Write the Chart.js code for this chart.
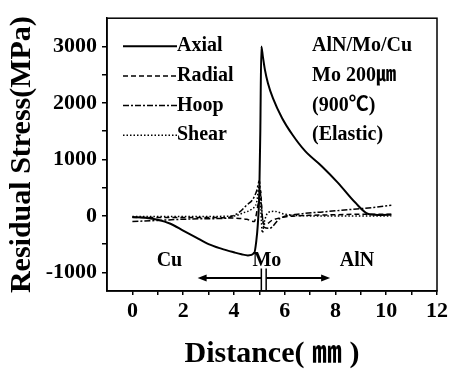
<!DOCTYPE html>
<html>
<head>
<meta charset="utf-8">
<script src="https://cdn.jsdelivr.net/npm/chart.js@4.4.1/dist/chart.umd.min.js"></script>
<style>
  body { margin: 0; background: #fff; }
  canvas { display: block; }
</style>
</head>
<body>
<canvas id="chart" width="452" height="369"></canvas>
<script>
// values (distance in mm, stress in MPa)
const axialDist = [0, 0.5, 1.0, 1.5, 2.0, 2.5, 3.0, 3.5, 4.0, 4.3, 4.55, 4.8, 4.88, 4.94, 5.0, 5.04, 5.08, 5.14, 5.22, 5.34, 5.54, 5.9, 6.3, 6.8, 7.47, 8.1, 8.77, 9.3, 9.85, 10.2];
const axialStress = [-20, -35, -70, -140, -260, -380, -500, -580, -645, -680, -700, -660, -450, -160, 410, 1500, 3000, 2820, 2590, 2350, 2080, 1730, 1440, 1150, 875, 585, 240, 35, 17, 20];

const radialDist = [0, 1, 2, 3, 4, 4.5, 4.8, 4.95, 5.05, 5.12, 5.25, 5.5, 6, 7, 8, 9, 10.2];
const radialStress = [-30, -30, -30, -30, -40, -60, -100, 200, 450, -50, -150, -80, -20, 10, 20, 30, 30];

const hoopDist = [0, 1, 2, 3, 3.7, 3.95, 4.23, 4.5, 4.74, 4.9, 5.0, 5.08, 5.18, 5.4, 5.8, 6.6, 7.5, 8.5, 9.5, 10.2];
const hoopStress = [-100, -80, -60, -50, -40, 0, 70, 190, 290, 450, 620, 200, -200, -220, -50, 35, 70, 110, 150, 190];

const shearDist = [0, 1, 2, 3, 4, 4.4, 4.7, 4.9, 5.0, 5.06, 5.12, 5.2, 5.35, 5.6, 6, 7, 8, 9, 10.2];
const shearStress = [-10, -10, -10, -10, 0, 60, 120, 250, 550, 100, -300, -100, 60, 80, 30, 0, 0, 0, 0];

const xTicks = [0, 1, 2, 3, 4, 5, 6, 7, 8, 9, 10, 11, 12];
const yTicks = [-1000, -500, 0, 500, 1000, 1500, 2000, 2500, 3000];

const infoLines = ['AlN/Mo/Cu', 'Mo 200㎛', '(900℃)', '(Elastic)'];
const regionLabels = [['Cu', 1.46], ['Mo', 5.3], ['AlN', 8.85]];
const moEdges = [5.08, 5.27];

const serif = '"Liberation Serif", "Times New Roman", "Noto Sans CJK SC", serif';

function pairs(xs, ys) {
  return xs.map((x, i) => ({ x: x, y: ys[i] }));
}

function series(label, xs, ys, width, dash) {
  return {
    label: label,
    data: pairs(xs, ys),
    borderColor: '#000',
    borderWidth: width,
    borderDash: dash,
    pointRadius: 0,
    fill: false,
    cubicInterpolationMode: 'monotone'
  };
}

function arrowHead(ctx, x, y, dir) {
  ctx.beginPath();
  ctx.moveTo(x, y);
  ctx.lineTo(x - dir * 9, y - 3.5);
  ctx.lineTo(x - dir * 9, y + 3.5);
  ctx.closePath();
  ctx.fill();
}

// legend, text block, region labels and arrows
const overlay = {
  id: 'overlay',
  afterDraw(chart) {
    const { ctx, chartArea: a, scales: { x, y } } = chart;
    ctx.save();
    ctx.strokeStyle = '#000';
    ctx.fillStyle = '#000';

    // frame
    ctx.lineWidth = 1.5;
    ctx.strokeRect(a.left, a.top, a.right - a.left, a.bottom - a.top);

    // legend
    ctx.font = 'bold 20px ' + serif;
    ctx.textBaseline = 'middle';
    ctx.textAlign = 'left';
    chart.data.datasets.forEach((ds, i) => {
      const ly = a.top + 28 + i * 29.7;
      ctx.lineWidth = ds.borderWidth;
      ctx.setLineDash(ds.borderDash || []);
      ctx.beginPath();
      ctx.moveTo(a.left + 16, ly);
      ctx.lineTo(a.left + 70, ly);
      ctx.stroke();
      ctx.setLineDash([]);
      ctx.fillText(ds.label, a.left + 70, ly);
    });

    infoLines.forEach((t, i) => {
      ctx.fillText(t, a.left + 205, a.top + 28 + i * 29.7);
    });

    // region labels
    ctx.textAlign = 'center';
    regionLabels.forEach(([t, d]) => {
      ctx.fillText(t, x.getPixelForValue(d), y.getPixelForValue(-800));
    });

    // Mo layer edges and arrows
    const x0 = x.getPixelForValue(moEdges[0]);
    const x1 = x.getPixelForValue(moEdges[1]);
    ctx.lineWidth = 1.5;
    ctx.beginPath();
    moEdges.forEach(d => {
      const px = x.getPixelForValue(d);
      ctx.moveTo(px, y.getPixelForValue(-930));
      ctx.lineTo(px, a.bottom);
    });
    ctx.stroke();

    const ay = y.getPixelForValue(-1100);
    const left = x.getPixelForValue(2.57);
    const right = x.getPixelForValue(7.79);
    ctx.lineWidth = 2;
    ctx.beginPath();
    ctx.moveTo(x0, ay);
    ctx.lineTo(left + 6, ay);
    ctx.moveTo(x1, ay);
    ctx.lineTo(right - 6, ay);
    ctx.stroke();
    arrowHead(ctx, left, ay, -1);
    arrowHead(ctx, right, ay, 1);

    ctx.restore();
  }
};

new Chart(document.getElementById('chart'), {
  type: 'line',
  plugins: [overlay],
  data: {
    datasets: [
      series('Axial', axialDist, axialStress, 2, []),
      series('Radial', radialDist, radialStress, 1.5, [5, 3]),
      series('Hoop', hoopDist, hoopStress, 1.5, [6, 2, 2, 2]),
      series('Shear', shearDist, shearStress, 1.5, [1.5, 2])
    ]
  },
  options: {
    responsive: false,
    animation: false,
    layout: { padding: { top: 10, right: 15, left: 0, bottom: 0 } },
    plugins: { legend: { display: false }, tooltip: { enabled: false } },
    scales: {
      x: {
        type: 'linear',
        min: -1,
        max: 12,
        afterBuildTicks: s => { s.ticks = xTicks.map(v => ({ value: v })); },
        afterFit: s => { s.height = 78; },
        grid: { drawOnChartArea: false, tickLength: 4, color: '#000', lineWidth: 1.5 },
        border: { color: '#000', width: 1.5 },
        ticks: {
          autoSkip: false,
          maxRotation: 0,
          padding: 3,
          color: '#000',
          font: { family: serif, size: 22, weight: 'bold' },
          callback: v => (v % 2 === 0 ? v : '')
        },
        title: {
          display: true,
          text: 'Distance( ㎜ )',
          color: '#000',
          padding: 0,
          font: { family: serif, size: 30, weight: 'bold', lineHeight: 1 }
        }
      },
      y: {
        min: -1330,
        max: 3500,
        afterBuildTicks: s => { s.ticks = yTicks.map(v => ({ value: v })); },
        afterFit: s => { s.width = 107; },
        grid: { drawOnChartArea: false, tickLength: 5, color: '#000', lineWidth: 1.5 },
        border: { color: '#000', width: 1.5 },
        ticks: {
          padding: 5,
          color: '#000',
          font: { family: serif, size: 22, weight: 'bold' },
          callback: v => (v % 1000 === 0 ? v : '')
        },
        title: {
          display: true,
          text: 'Residual Stress(MPa)',
          color: '#000',
          padding: { top: 7 },
          font: { family: serif, size: 30, weight: 'bold', lineHeight: 1 }
        }
      }
    }
  }
});
</script>
</body>
</html>
